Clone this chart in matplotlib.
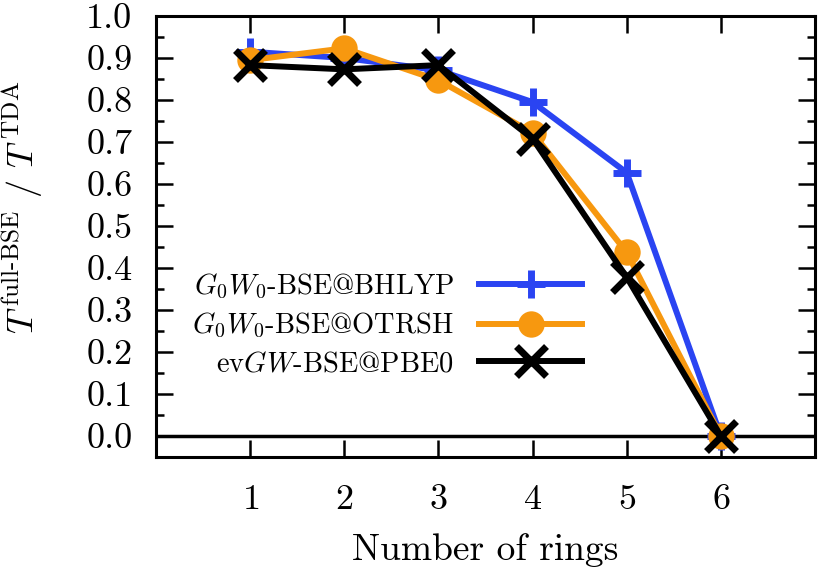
import matplotlib
matplotlib.use("Agg")
import matplotlib.pyplot as plt
from matplotlib.ticker import MultipleLocator, FormatStrFormatter

plt.rcParams['font.family'] = 'serif'
plt.rcParams['font.serif'] = ['cmr10']
plt.rcParams['mathtext.fontset'] = 'cm'
plt.rcParams['axes.unicode_minus'] = False
plt.rcParams['axes.formatter.use_mathtext'] = True

rings = [1, 2, 3, 4, 5, 6]
bhlyp = [0.915, 0.90, 0.871, 0.795, 0.627, 0.0]
otrsh = [0.895, 0.923, 0.847, 0.722, 0.437, 0.0]
pbe0 = [0.883, 0.873, 0.883, 0.708, 0.378, 0.0]

labels = [r"$G_0W_0$-BSE@BHLYP", r"$G_0W_0$-BSE@OTRSH", r"ev$GW$-BSE@PBE0"]

blue = '#2a44f2'
orange = '#f7980f'

fig = plt.figure(figsize=(8.2, 5.7), dpi=100)
ax = fig.add_axes([156/820, 1 - 457/570, (815-156)/820, (457-16)/570])

ax.axhline(0.0, color='black', lw=2.5, zorder=1)

ax.plot(rings, bhlyp, color=blue, lw=4.3, marker='+', ms=20, mew=5, label=labels[0], zorder=3)
ax.plot(rings, otrsh, color=orange, lw=4.3, marker='o', ms=19, mew=0, label=labels[1], zorder=4)
ax.plot(rings, pbe0, color='black', lw=4.3, marker='x', ms=21, mew=5, label=labels[2], zorder=5)

ax.set_xlim(0, 7)
ax.set_ylim(-0.05, 1.0)
ax.set_xticks(rings)
ax.yaxis.set_major_locator(MultipleLocator(0.1))
ax.yaxis.set_minor_locator(MultipleLocator(0.05))
ax.yaxis.set_major_formatter(FormatStrFormatter('%.1f'))

ax.tick_params(which='both', direction='in', top=True, right=True, labelsize=26, width=1.8)
ax.tick_params(which='major', length=12)
ax.tick_params(which='minor', length=6)
ax.tick_params(axis='y', which='major', pad=17)
ax.tick_params(axis='x', which='major', pad=20)
for s in ax.spines.values():
    s.set_linewidth(2.2)

ax.set_xlabel("Number of rings", fontsize=27, labelpad=12)
ax.set_ylabel(r"$T^{\,\mathrm{full}\text{-}\mathrm{BSE}}$ / $T^{\,\mathrm{TDA}}$", fontsize=26)
ax.yaxis.set_label_coords(-0.168, 0.565)

ax.legend(loc='center right', bbox_to_anchor=(582/820, 1 - 324.5/570),
          bbox_transform=fig.transFigure, frameon=False, markerfirst=False,
          fontsize=20.5, handlelength=3.6, handletextpad=0.9, labelspacing=0.36,
          borderpad=0, borderaxespad=0)

fig.savefig('out.png', dpi=100)
